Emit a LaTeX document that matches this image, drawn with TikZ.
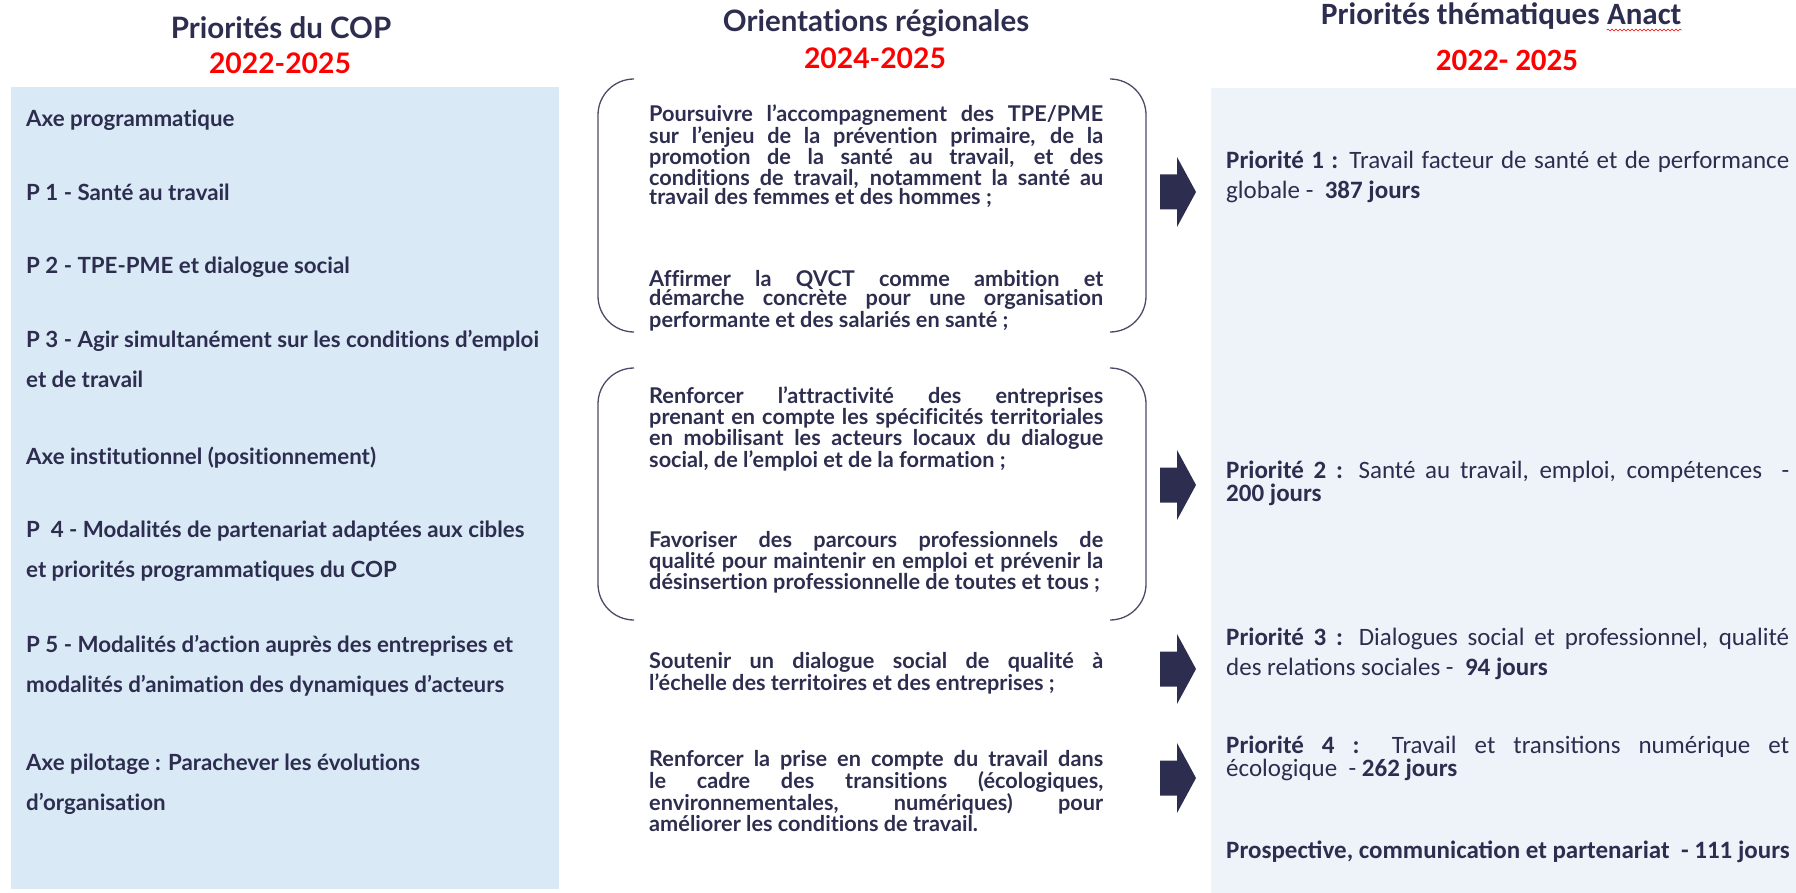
\documentclass[tikz,border=0pt]{standalone}
\usepackage{fontspec}
\setmainfont{Lato}[Ligatures={NoCommon}]
\newfontfamily\calibri{Carlito}
\usetikzlibrary{decorations.pathmorphing}

\definecolor{encre}{HTML}{2D2D4F}
\definecolor{fondCOP}{HTML}{DAE9F6}
\definecolor{fondAnact}{HTML}{EEF3FA}
\definecolor{rouge}{HTML}{FF0000}
\definecolor{crochet}{HTML}{4B4B69}

\newcommand{\lj}[1]{\makebox[454pt][s]{#1}}
\newcommand{\rj}[1]{\makebox[563pt][s]{#1}}

\tikzset{
	entete/.style={inner sep=0pt, text=encre, font=\bfseries\fontsize{29.5}{34}\selectfont},
	annee/.style={entete, text=rouge, font=\bfseries\fontsize{28.3}{34}\selectfont},
	enteteA/.style={inner sep=0pt, text=encre, font=\calibri\bfseries\fontsize{31}{36}\selectfont},
	anneeA/.style={enteteA, text=rouge},
	cop/.style={inner sep=0pt, anchor=base west, align=left, text=encre, font=\bfseries\fontsize{22.3}{40}\selectfont},
	orient/.style={inner sep=0pt, anchor=base west, align=left, text=encre, font=\bfseries\fontsize{21.7}{19.7}\selectfont},
	anact/.style={inner sep=0pt, anchor=base west, align=left, text=encre, font=\calibri\fontsize{25}{30}\selectfont},
	serre/.style={font=\calibri\fontsize{25}{20}\selectfont},
	crochets/.style={draw=crochet, line width=1.3pt, rounded corners=36pt},
}

\begin{document}
\begin{tikzpicture}[x=1pt, y=-1pt]
	\useasboundingbox (0,0) rectangle (1796,893);
	\fill[fondCOP] (11,87) rectangle (559,889);
	\fill[fondAnact] (1211,88) rectangle (1796,893);

	\node[entete] (titreCOP) at (281,28) {Priorités du COP};
	\node[annee] (anneeCOP) at (280,63) {2022-2025};
	\node[entete] (titreOR) at (876,23) {Orientations régionales};
	\node[annee] (anneeOR) at (875,58) {2024-2025};
	\node[enteteA, anchor=base west] (titreA) at (1321,25) {Priorités thématiques};
	\node[enteteA, anchor=base west] (anact) at ([xshift=7pt]titreA.base east) {Anact};
	\draw[rouge, line width=0.6pt, decorate, decoration={snake, amplitude=1pt, segment length=4pt}] ([yshift=-5pt]anact.base west) -- ([yshift=-5pt]anact.base east);
	\node[anneeA] (anneeA) at (1507,60) {2022- 2025};

	\foreach \yy/\txt [count=\i] in {127/{Axe programmatique}, 201/{P 1 - Santé au travail}, 274/{P 2 - TPE-PME et dialogue social},
		387/{P 3 - Agir simultanément sur les conditions d’emploi\\et de travail}, 464/{Axe institutionnel (positionnement)},
		577/{P~~4 - Modalités de partenariat adaptées aux cibles\\et priorités programmatiques du COP},
		692/{P 5 - Modalités d’action auprès des entreprises et\\modalités d’animation des dynamiques d’acteurs},
		810/{Axe pilotage : Parachever les évolutions\\d’organisation}}
		\node[cop] (cop\i) at (26,\yy) {\txt};

	\draw[crochets] (634,79) -- (598,79) -- (598,332) -- (634,332);
	\draw[crochets] (1110,79) -- (1146,79) -- (1146,332) -- (1110,332);
	\draw[crochets] (634,368) -- (598,368) -- (598,620) -- (634,620);
	\draw[crochets] (1110,368) -- (1146,368) -- (1146,620) -- (1110,620);

	\node[orient] (or1) at (649,205) {\lj{Poursuivre l’accompagnement des TPE/PME}\\\lj{sur l’enjeu de la prévention primaire, de la}\\\lj{promotion de la santé au travail, et des}\\\lj{conditions de travail, notamment la santé au}\\travail des femmes et des hommes ;};
	\node[orient] (or2) at (649,327) {\lj{Affirmer la QVCT comme ambition et}\\\lj{démarche concrète pour une organisation}\\performante et des salariés en santé ;};
	\node[orient] (or3) at (649,467) {\lj{Renforcer l’attractivité des entreprises}\\\lj{prenant en compte les spécificités territoriales}\\\lj{en mobilisant les acteurs locaux du dialogue}\\social, de l’emploi et de la formation ;};
	\node[orient] (or4) at (649,589) {\lj{Favoriser des parcours professionnels de}\\\lj{qualité pour maintenir en emploi et prévenir la}\\désinsertion professionnelle de toutes et tous ;};
	\node[orient] (or5) at (649,690) {\lj{Soutenir un dialogue social de qualité à}\\l’échelle des territoires et des entreprises ;};
	\node[orient, font=\bfseries\fontsize{21.7}{19}\selectfont] (or6) at (649,831) {\lj{Renforcer la prise en compte du travail dans}\\\lj{le cadre des transitions (écologiques,}\\\lj{environnementales, numériques) pour}\\améliorer les conditions de travail.};

	\foreach \y in {192,485,669,778}
		\fill[encre] (1160,\y-17.5) -- (1177,\y-17.5) -- (1177,\y-35) -- (1196,\y) -- (1177,\y+35) -- (1177,\y+17.5) -- (1160,\y+17.5) -- cycle;

	\node[anact] (pr1) at (1226,199) {\rj{\textbf{Priorité 1 :} Travail facteur de santé et de performance}\\globale -\ \ \textbf{387 jours}};
	\node[anact, serre] (pr2) at (1226,501) {\rj{\textbf{Priorité 2 :} Santé au travail, emploi, compétences\ \ -}\\\textbf{200 jours}};
	\node[anact] (pr3) at (1226,675) {\rj{\textbf{Priorité 3 :} Dialogues social et professionnel, qualité}\\des relations sociales -\ \ \textbf{94 jours}};
	\node[anact, serre] (pr4) at (1226,776) {\rj{\textbf{Priorité 4 :} Travail et transitions numérique et}\\écologique\ \ - \textbf{262 jours}};
	\node[anact] (pr5) at (1226,858) {\textbf{Prospective, communication et partenariat\ \ - 111 jours}};
\end{tikzpicture}
\end{document}
